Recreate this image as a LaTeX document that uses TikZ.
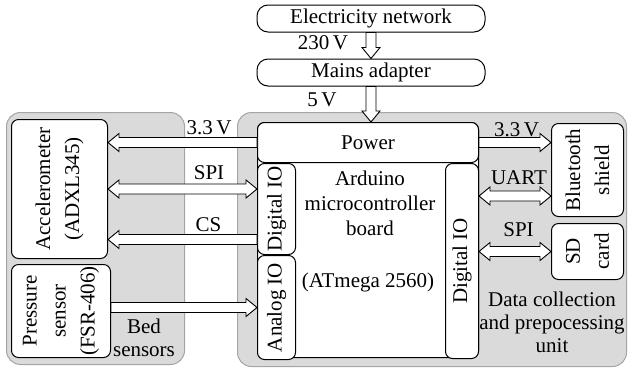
\documentclass[tikz,border=0pt]{standalone}
\usepackage{fontspec}
\setmainfont{Liberation Serif}
\usetikzlibrary{calc,positioning}

\definecolor{unitfill}{RGB}{218,218,218}
\definecolor{unitline}{RGB}{165,165,165}

% sizes of the hollow arrows
\def\arrshaft{5pt}
\def\arrhead{9pt}
\def\arrlen{11pt}

\tikzset{
  blockarrow/.style={draw, fill=white, line width=0.9pt, line join=miter, to path={
    ($(\tikztostart)!\arrshaft!90:(\tikztotarget)$)
    -- ($(\tikztotarget)!\arrlen!(\tikztostart)!\arrshaft!90:(\tikztotarget)$)
    -- ($(\tikztotarget)!\arrlen!(\tikztostart)!\arrhead!90:(\tikztotarget)$)
    -- (\tikztotarget)
    -- ($(\tikztotarget)!\arrlen!(\tikztostart)!\arrhead!-90:(\tikztotarget)$)
    -- ($(\tikztotarget)!\arrlen!(\tikztostart)!\arrshaft!-90:(\tikztotarget)$)
    -- ($(\tikztostart)!\arrshaft!-90:(\tikztotarget)$) -- cycle}},
  dblarrow/.style={draw, fill=white, line width=0.9pt, line join=miter, to path={
    (\tikztostart)
    -- ($(\tikztostart)!\arrlen!(\tikztotarget)!\arrhead!90:(\tikztotarget)$)
    -- ($(\tikztostart)!\arrlen!(\tikztotarget)!\arrshaft!90:(\tikztotarget)$)
    -- ($(\tikztotarget)!\arrlen!(\tikztostart)!\arrshaft!90:(\tikztotarget)$)
    -- ($(\tikztotarget)!\arrlen!(\tikztostart)!\arrhead!90:(\tikztotarget)$)
    -- (\tikztotarget)
    -- ($(\tikztotarget)!\arrlen!(\tikztostart)!\arrhead!-90:(\tikztotarget)$)
    -- ($(\tikztotarget)!\arrlen!(\tikztostart)!\arrshaft!-90:(\tikztotarget)$)
    -- ($(\tikztostart)!\arrlen!(\tikztotarget)!\arrshaft!-90:(\tikztotarget)$)
    -- ($(\tikztostart)!\arrlen!(\tikztotarget)!\arrhead!-90:(\tikztotarget)$)
    -- cycle}}
}

\begin{document}
\begin{tikzpicture}[x=1pt, y=-1pt, font=\fontsize{21}{25}\selectfont,
  box/.style={draw, line width=1pt, rounded corners=7pt, fill=white, inner sep=0pt},
  unit/.style={draw=unitline, fill=unitfill, line width=1pt, rounded corners=14pt, inner sep=0pt},
  rot/.style={rotate=90, align=center, font=\fontsize{21}{29}\selectfont}]
\useasboundingbox (0,0) rectangle (629,368);

% grey groups
\node[unit, minimum width=178pt, minimum height=252pt, anchor=north west] (bed) at (6,112) {};
\node[unit, minimum width=389pt, minimum height=254pt, anchor=north west] (dcu) at (237,112) {};

% supply chain
\node[box, rounded corners=11pt, minimum width=228pt, minimum height=27pt] (net) at (371,18.5) {Electricity network};
\node[box, rounded corners=11pt, minimum width=228pt, minimum height=27pt, below=26pt of net] (adp) {Mains adapter};

% arduino board
\node[box, minimum width=221pt, minimum height=235pt, anchor=north west] (brd) at (257,122) {};
\node[box, minimum width=221pt, minimum height=40pt, anchor=north west] (pw) at (257,122) {Power};
\node[box, minimum width=38pt, minimum height=91pt, anchor=north west] (dio1) at (pw.south west) {};
\node[box, minimum width=38pt, minimum height=104pt, anchor=north west] (aio) at (dio1.south west) {};
\node[box, minimum width=33pt, minimum height=195pt, anchor=north east] (dio2) at (pw.south east) {};
\node[rot] (dio1t) at (dio1) {Digital IO};
\node[rot] (aiot) at (aio) {Analog IO};
\node[rot] (dio2t) at (dio2) {Digital IO};
\node[align=center] (ard) at (370,203) {Arduino\\microcontroller\\board};
\node (atm) at (368,282) {(ATmega 2560)};

% bed sensors
\node[box, minimum width=96pt, minimum height=139pt, anchor=north west] (acc) at (11,119) {};
\node[rot] (acct) at (acc) {Accelerometer\\(ADXL345)};
\node[box, minimum width=99pt, minimum height=93pt, anchor=north west] (prs) at (11,264) {};
\node[rot] (prst) at (prs) {Pressure\\sensor\\(FSR-406)};
\node[align=center, font=\fontsize{21}{23}\selectfont] (bedt) at (144,338) {Bed\\sensors};

% peripherals
\node[box, minimum width=72pt, minimum height=93pt, anchor=north west] (bt) at (551,123) {};
\node[rot] (btt) at (bt) {Bluetooth\\shield};
\node[box, minimum width=72pt, minimum height=56pt, anchor=north west] (sd) at (551,223) {};
\node[rot] (sdt) at (sd) {SD\\card};
\node[align=center, font=\fontsize{21}{23}\selectfont] (dcut) at (552,322) {Data collection\\and prepocessing\\unit};

\coordinate (cs) at ([yshift=-30.5pt]dio1.west);
\coordinate (ua) at ([yshift=-26pt]bt.west);

% arrows
\draw[blockarrow] (net.south) to (adp.north);
\draw[blockarrow] (adp.south) to (adp.south |- pw.north);
\draw[blockarrow] (pw.west) to (pw.west -| acc.east);
\draw[dblarrow] (acc.east) to (acc.east -| dio1.west);
\draw[blockarrow] (cs) to (cs -| acc.east);
\draw[blockarrow] (aio.west -| prs.east) to (aio.west);
\draw[blockarrow] (pw.east) to (pw.east -| bt.west);
\draw[dblarrow] (ua -| dio2.east) to (ua);
\draw[dblarrow] (sd.west -| dio2.east) to (sd.west);

% labels
\node (l230) at (323,43) {230\,V};
\node (l5) at (322,100) {5\,V};
\node (l33a) at (209,128) {3.3\,V};
\node (lspia) at (209,173) {SPI};
\node (lcs) at (208.5,225) {CS};
\node (l33b) at (516.5,130) {3.3\,V};
\node (luart) at (519,178) {UART};
\node (lspib) at (518.5,230) {SPI};
\end{tikzpicture}
\end{document}
